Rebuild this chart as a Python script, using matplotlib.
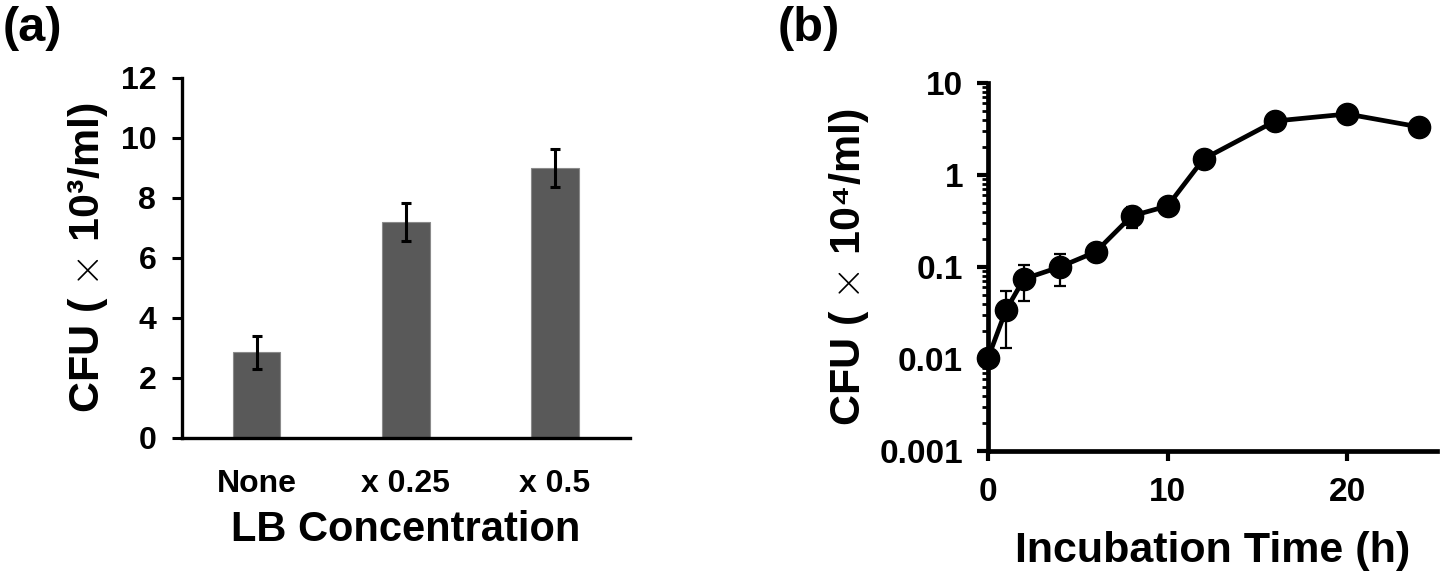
import matplotlib
matplotlib.use("Agg")
import matplotlib.pyplot as plt
from matplotlib.ticker import FixedLocator, FixedFormatter, NullFormatter
import numpy as np

plt.rcParams['font.family'] = ['Liberation Sans', 'DejaVu Sans']
plt.rcParams['font.weight'] = 'bold'
plt.rcParams['mathtext.fontset'] = 'cm'

# Panel (a) data
categories = ["None", "x 0.25", "x 0.5"]
cfu_a = [2.85, 7.2, 9.0]
err_a = [0.55, 0.62, 0.63]
yticks_a = [0, 2, 4, 6, 8, 10, 12]

# Panel (b) data
time_h = [0, 1, 2, 4, 6, 8, 10, 12, 16, 20, 24]
cfu_b = [0.0102, 0.034, 0.074, 0.1, 0.146, 0.358, 0.46, 1.49, 3.86, 4.6, 3.33]
err_b = [0.001, 0.021, 0.031, 0.038, 0.012, 0.09, 0.04, 0.12, 0.4, 0.4, 0.3]
yticks_b = [0.001, 0.01, 0.1, 1, 10]
yticklabels_b = ["0.001", "0.01", "0.1", "1", "10"]
xticks_b = [0, 10, 20]

fig = plt.figure(figsize=(14.4, 5.75), dpi=100)

# ---------- Panel (a) ----------
ax1 = fig.add_axes([0.1264, 0.2383, 0.3108, 0.6261])
x = np.arange(len(categories))
ax1.bar(x, cfu_a, width=0.32, color='#595959', edgecolor='#8a8a8a', linewidth=0.8, zorder=2)
ax1.errorbar(x, cfu_a, yerr=err_a, fmt='none', ecolor='black', elinewidth=2.2,
             capsize=3.5, capthick=2.2, zorder=3)
ax1.set_xlim(-0.5, 2.5)
ax1.set_ylim(0, 12)
ax1.set_yticks(yticks_a)
ax1.set_xticks(x)
ax1.set_xticklabels(categories)
for s in ['top', 'right']:
    ax1.spines[s].set_visible(False)
for s in ['left', 'bottom']:
    ax1.spines[s].set_linewidth(2.4)
ax1.tick_params(axis='y', direction='out', length=7.5, width=2.2, labelsize=23, pad=11)
ax1.tick_params(axis='x', length=0, labelsize=23, pad=22)
ax1.set_xlabel("LB Concentration", fontsize=30, fontweight='bold', labelpad=8)
ax1.set_ylabel("CFU ( $\\times$ 10³/ml)", fontsize=31, fontweight='bold', labelpad=8)
for lab in ax1.get_xticklabels() + ax1.get_yticklabels():
    lab.set_fontweight('bold')

# ---------- Panel (b) ----------
ax2 = fig.add_axes([0.6861, 0.2157, 0.3118, 0.64])
ax2.set_yscale('log')
ax2.errorbar(time_h, cfu_b, yerr=err_b, fmt='none', ecolor='black', elinewidth=1.6,
             capsize=4, capthick=1.6, zorder=2, clip_on=False)
ax2.plot(time_h, cfu_b, '-o', color='black', linewidth=3.4, markersize=16,
         zorder=3, clip_on=False)
ax2.set_xlim(0, 25)
ax2.set_ylim(0.001, 10)
ax2.yaxis.set_major_locator(FixedLocator(yticks_b))
ax2.yaxis.set_major_formatter(FixedFormatter(yticklabels_b))
minors = [m * d for d in [0.001, 0.01, 0.1, 1] for m in range(2, 10)]
ax2.yaxis.set_minor_locator(FixedLocator(minors))
ax2.yaxis.set_minor_formatter(NullFormatter())
ax2.set_xticks(xticks_b)
for s in ['top', 'right']:
    ax2.spines[s].set_visible(False)
for s in ['left', 'bottom']:
    ax2.spines[s].set_linewidth(3.4)
ax2.tick_params(axis='y', which='major', direction='out', length=8, width=3, labelsize=24, pad=10)
ax2.tick_params(axis='y', which='minor', direction='out', length=4.5, width=2)
ax2.tick_params(axis='x', which='major', direction='out', length=7, width=3, labelsize=24, pad=12)
ax2.set_xlabel("Incubation Time (h)", fontsize=31, fontweight='bold', labelpad=16)
ax2.set_ylabel("CFU ( $\\times$ 10⁴/ml)", fontsize=31, fontweight='bold', labelpad=6)
for lab in ax2.get_xticklabels() + ax2.get_yticklabels():
    lab.set_fontweight('bold')

# Panel labels
fig.text(0.002, 0.99, "(a)", fontsize=35, fontweight='bold', ha='left', va='top')
fig.text(0.54, 0.99, "(b)", fontsize=35, fontweight='bold', ha='left', va='top')

fig.savefig("out.png", dpi=100)
